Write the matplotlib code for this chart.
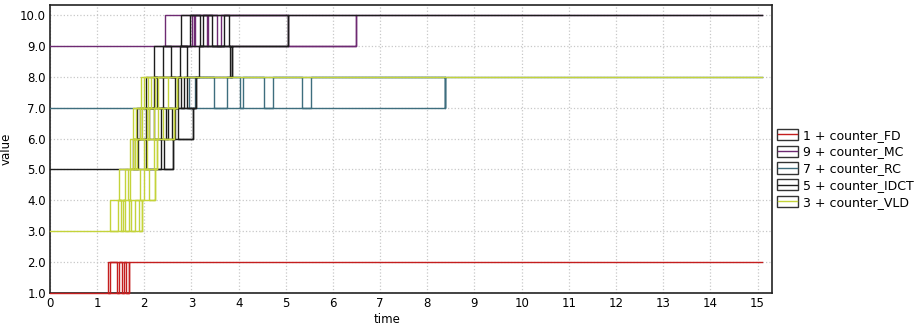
import numpy as np
import matplotlib.pyplot as plt
from matplotlib.patches import Rectangle

# counter traces: for each series the base value and, for every level band
# (base->base+1, base+1->base+2, ...), the times of the vertical edges seen.
# the trace log is not time ordered, so the step line runs back and forth.
t_end = 15.1

fd_base = 1
fd_bands = [[1.22, 1.27, 1.43, 1.47, 1.52, 1.56, 1.62, 1.68]]

mc_base = 9
mc_bands = [[2.44, 3.02, 3.05, 3.08, 3.33, 3.36, 3.55, 3.62, 5.04, 6.48]]

rc_base = 7
rc_bands = [[2.95, 3.07, 3.47, 3.75, 4.03, 4.10, 4.53, 4.73, 5.34, 5.54, 8.37, 8.37]]

idct_base = 5
idct_bands = [[1.77, 1.87, 2.03, 2.35, 2.42, 2.60],
              [1.84, 1.90, 2.03, 2.10, 2.20, 2.35, 2.45, 2.51, 2.58, 2.65, 2.72, 3.03],
              [2.03, 2.21, 2.27, 2.40, 2.66, 2.72, 2.77, 2.84, 2.90, 3.10],
              [2.21, 2.40, 2.57, 2.75, 2.90, 3.15, 3.82, 3.85],
              [2.77, 2.97, 3.18, 3.25, 3.43, 3.68, 3.79, 5.04]]

vld_base = 3
vld_bands = [[1.27, 1.44, 1.50, 1.55, 1.60, 1.67, 1.72, 1.80, 1.88, 1.96],
             [1.46, 1.60, 1.65, 1.70, 1.90, 2.00, 2.10, 2.23],
             [1.70, 1.75, 1.80, 1.85, 2.00, 2.05, 2.20, 2.26],
             [1.77, 1.82, 1.90, 1.95, 2.05, 2.10, 2.20, 2.28, 2.40, 2.62],
             [1.92, 2.00, 2.08, 2.14, 2.22, 2.30, 2.50, 2.70]]

names = ['1 + counter_FD', '9 + counter_MC', '7 + counter_RC', '5 + counter_IDCT', '3 + counter_VLD']
colors = ['#c41e1e', '#6e2a72', '#3e6e7e', '#1c1c1c', '#c4d33a']
series = [(fd_base, fd_bands), (mc_base, mc_bands), (rc_base, rc_bands),
          (idct_base, idct_bands), (vld_base, vld_bands)]


def trace(base, bands):
    t = [0]
    v = [base]
    lvl = base
    for xs in bands:
        t.append(xs[-1]); v.append(lvl + 1)
        for i, x in enumerate(xs):
            t.append(x)
            v.append(lvl if i % 2 == 0 else lvl + 1)
        lvl += 1
    t.append(t_end); v.append(lvl)
    return t, v


fig = plt.figure(figsize=(9.17, 3.29), dpi=100)
ax = fig.add_axes([0.0545, 0.109, 0.787, 0.876])

for (b, bands), c in zip(series, colors):
    t, v = trace(b, bands)
    ax.step(t, v, where='post', color=c, lw=1.0, zorder=3, clip_on=False)

ax.set_xlim(0, 15.3)
ax.set_ylim(1.0, 10.32)
ax.set_xticks(np.arange(0, 16, 1))
ax.set_yticks(np.arange(1, 11, 1))
ax.set_yticklabels(['%.1f' % y for y in np.arange(1, 11, 1)])
ax.grid(True, color='#c8c8c8', ls=':', lw=0.9)
ax.tick_params(labelsize=8.5, length=0, pad=3)
for s in ax.spines.values():
    s.set_color('#222222')
    s.set_linewidth(1.2)
    s.set_zorder(2.5)

ax.set_xlabel('time', fontsize=8.5, labelpad=1)
ax.xaxis.set_label_coords(0.467, -0.07)
ax.set_ylabel('value', fontsize=8.5, labelpad=5)

handles = [Rectangle((0, 0), 1, 1, facecolor='white', edgecolor='#333333', lw=1.0)
           for c in colors]
leg = fig.legend(handles, names, loc='center left', bbox_to_anchor=(0.842, 0.487),
                 frameon=False, fontsize=9, handlelength=1.7, handleheight=1.0,
                 handletextpad=0.35, labelspacing=0.3, borderaxespad=0)

# coloured line through each legend box
fig.canvas.draw()
inv = fig.transFigure.inverted()
for h, c in zip(leg.legend_handles, colors):
    ext = h.get_window_extent()
    (x0, y0), (x1, y1) = inv.transform([(ext.x0, ext.y0), (ext.x1, ext.y1)])
    fig.add_artist(plt.Line2D([x0 + 0.001, x1 - 0.001], [(y0 + y1) / 2] * 2, color=c,
                              lw=1.0, transform=fig.transFigure, zorder=10))

fig.savefig('out.png', dpi=100)
